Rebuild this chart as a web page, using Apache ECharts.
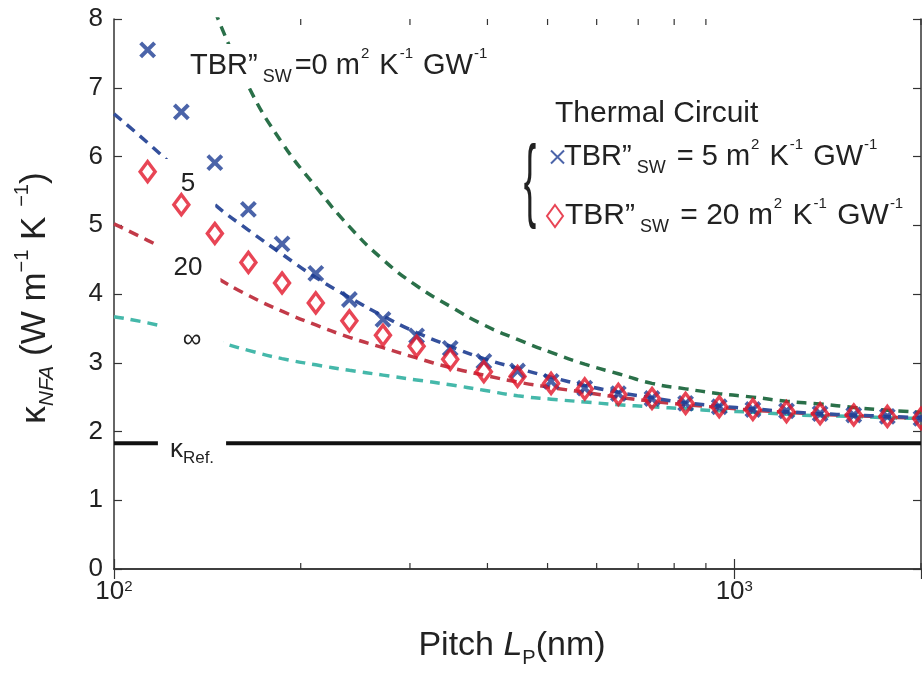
<!DOCTYPE html>
<html>
<head>
<meta charset="utf-8">
<script src="https://cdn.jsdelivr.net/npm/echarts@6/dist/echarts.min.js"></script>
<style>
  html, body { margin: 0; padding: 0; background: #fff; }
  #chart { width: 922px; height: 674px; }
</style>
</head>
<body>
<div id="chart"></div>
<script>
// ---------- data ----------
// pitch grid (nm) used by the model curves
const pitchCurve = [100, 113.3, 128.4, 145.4, 164.7, 186.6, 211.5, 239.6, 271.4, 307.5, 348.4, 394.7,
  447.2, 506.6, 574.0, 650.3, 736.8, 834.7, 945.7, 1071.4, 1213.9, 1375.2, 1558.1, 1765.2, 2000];
// pitch of thermal circuit markers (nm)
const pitchMarkers = [113.3, 128.4, 145.4, 164.7, 186.6, 211.5, 239.6, 271.4, 307.5, 348.4, 394.7,
  447.2, 506.6, 574.0, 650.3, 736.8, 834.7, 945.7, 1071.4, 1213.9, 1375.2, 1558.1, 1765.2, 2000];
// thermal circuit, TBR''sw = 5
const circuit5 = [7.55, 6.65, 5.91, 5.23, 4.73, 4.30, 3.92, 3.63, 3.39, 3.21, 3.02, 2.88, 2.73, 2.63,
  2.55, 2.48, 2.41, 2.36, 2.32, 2.30, 2.26, 2.24, 2.22, 2.19];
// thermal circuit, TBR''sw = 20
const circuit20 = [5.78, 5.30, 4.88, 4.46, 4.16, 3.87, 3.61, 3.40, 3.24, 3.05, 2.87, 2.80, 2.70, 2.62,
  2.54, 2.48, 2.41, 2.36, 2.32, 2.29, 2.26, 2.24, 2.22, 2.19];
// model curves (dashed)
const model0 = [null, null, null, 8.12, 7.02, 6.20, 5.56, 4.98, 4.50, 4.12, 3.82, 3.55, 3.34, 3.15,
  2.98, 2.84, 2.70, 2.62, 2.55, 2.50, 2.44, 2.40, 2.35, 2.31, 2.28];
const model5 = [6.62, 6.20, 5.75, 5.30, 4.93, 4.58, 4.24, 3.95, 3.68, 3.44, 3.24, 3.06, 2.92, 2.79,
  2.67, 2.57, 2.49, 2.42, 2.37, 2.33, 2.29, 2.26, 2.24, 2.22, 2.20];
const model20 = [5.02, 4.78, 4.53, 4.25, 3.98, 3.75, 3.55, 3.37, 3.22, 3.07, 2.93, 2.82, 2.72, 2.64,
  2.57, 2.50, 2.44, 2.39, 2.35, 2.31, 2.28, 2.25, 2.23, 2.21, 2.19];
const modelInf = [3.67, 3.58, 3.46, 3.32, 3.18, 3.06, 2.97, 2.89, 2.82, 2.75, 2.68, 2.60, 2.52, 2.47,
  2.43, 2.39, 2.36, 2.33, 2.30, 2.28, 2.25, 2.23, 2.22, 2.20, 2.19];
// reference conductivity
const kappaRef = 1.83;
const refPitch = [100, 2000];
// axis ticks
const yTicks = [0, 1, 2, 3, 4, 5, 6, 7, 8];
const xMajorLabels = { 100: '10{sup|2}', 1000: '10{sup|3}' };
const xMinorTicks = [200, 300, 400, 500, 600, 700, 800, 900, 2000];

// ---------- helpers ----------
const FONT = 'Liberation Sans, Arial, sans-serif';
const TXT = '#222';
const pairs = (xs, ys) => xs.map((x, i) => [x, ys[i]]);
const richSS = {
  sub: { fontSize: 18, fontFamily: FONT, color: TXT, verticalAlign: 'bottom', lineHeight: 18, padding: [0, 3, 0, 5] },
  sup: { fontSize: 15, fontFamily: FONT, color: TXT, verticalAlign: 'top', lineHeight: 15, padding: [0, 2, 0, 1] }
};

const chart = echarts.init(document.getElementById('chart'), null, { renderer: 'canvas' });

const dashed = (name, data, color) => ({
  name, type: 'line', data: pairs(pitchCurve, data), smooth: true, showSymbol: false,
  symbol: 'none', clip: true, z: 2,
  lineStyle: { color, width: 3.5, type: [10, 7] }
});

const xPath = 'path://M0,0L10,10M10,0L0,10';
const boxText = (text, x, y, pad, extra) => ({
  type: 'text', x, y, z: 4,
  style: Object.assign({ text, font: '26px ' + FONT, fill: TXT, textAlign: 'center', textVerticalAlign: 'middle',
    backgroundColor: '#fff', padding: pad }, extra || {})
});

const option = {
  animation: false,
  backgroundColor: '#fff',
  grid: { left: 114, right: 1, top: 19, bottom: 105 },
  xAxis: [{
    type: 'log', logBase: 10, min: 100, max: 2000,
    axisLine: { show: true, lineStyle: { color: '#333', width: 1.5 } },
    axisTick: { show: true, inside: true, length: 10, lineStyle: { color: '#333', width: 1.2 } },
    splitLine: { show: false },
    axisLabel: {
      margin: 10, fontSize: 26, fontFamily: FONT, color: TXT,
      formatter: v => xMajorLabels[Math.round(v)] || '',
      showMaxLabel: false,
      rich: { sup: { fontSize: 15, fontFamily: FONT, color: TXT, verticalAlign: 'top', padding: [0, 0, 10, 0] } }
    }
  }, {
    type: 'log', logBase: 10, min: 100, max: 2000, position: 'top',
    axisLine: { show: true, lineStyle: { color: '#333', width: 1.5 } },
    axisTick: { show: true, inside: true, length: 10, lineStyle: { color: '#333', width: 1.2 } },
    axisLabel: { show: false }, splitLine: { show: false }
  }],
  yAxis: [{
    type: 'value', min: 0, max: 8, interval: 1,
    axisLine: { show: true, lineStyle: { color: '#333', width: 1.5 } },
    axisTick: { show: true, inside: true, length: 8, lineStyle: { color: '#333', width: 1.2 } },
    splitLine: { show: false },
    axisLabel: { margin: 11, fontSize: 26, fontFamily: FONT, color: TXT,
      formatter: v => yTicks.includes(v) ? String(v) : '' }
  }, {
    type: 'value', min: 0, max: 8, interval: 1, position: 'right',
    axisLine: { show: true, lineStyle: { color: '#333', width: 1.5 } },
    axisTick: { show: true, inside: true, length: 8, lineStyle: { color: '#333', width: 1.2 } },
    axisLabel: { show: false }, splitLine: { show: false }
  }],
  legend: [{
    data: [{ name: 'c5', icon: xPath }],
    orient: 'vertical', left: 550, top: 137, padding: 0, itemWidth: 13, itemHeight: 13, itemGap: 0,
    selectedMode: false,
    formatter: () => 'TBR”{sub|SW} = 5 m{sup|2} K{sup|-1} GW{sup|-1}',
    textStyle: { fontSize: 29, fontFamily: FONT, color: TXT, lineHeight: 40, padding: [0, 0, 0, -5], rich: richSS }
  }, {
    data: [{ name: 'c20' }],
    orient: 'vertical', left: 546, top: 196, padding: 0, itemWidth: 16, itemHeight: 22, itemGap: 0,
    selectedMode: false,
    formatter: () => 'TBR”{sub|SW} = 20 m{sup|2} K{sup|-1} GW{sup|-1}',
    textStyle: { fontSize: 30, fontFamily: FONT, color: TXT, lineHeight: 40, padding: [0, 0, 0, -3], rich: richSS }
  }],
  graphic: [
    { type: 'text', left: 555, top: 99, z: 10,
      style: { text: 'Thermal Circuit', font: '30px ' + FONT, fill: TXT } },
    { type: 'text', x: 530, y: 185, scaleY: 2.1, scaleX: 0.85, z: 10,
      style: { text: '{', font: '44px ' + FONT, fill: TXT, textAlign: 'center', textVerticalAlign: 'middle' } },
    { type: 'text', x: 186, y: 66, z: 4,
      style: { text: 'TBR”{sub|SW}=0 m{sup|2} K{sup|-1} GW{sup|-1}', font: '29px ' + FONT, fill: TXT,
        textVerticalAlign: 'middle', backgroundColor: '#fff', padding: [2, 4, 2, 4], lineHeight: 40, rich: richSS } },
    boxText('5', 189, 184, [12, 20, 12, 18]),
    boxText('20', 188, 268, [10, 18, 10, 18]),
    boxText('∞', 192, 340, [10, 22, 10, 22]),
    boxText('κ{s|Ref.}', 192, 450, [4, 12, 4, 12], {
      rich: { s: { fontSize: 17, fontFamily: FONT, color: TXT, verticalAlign: 'bottom', lineHeight: 17 } },
      lineHeight: 34 }),
    { type: 'text', x: 512, y: 646, z: 10,
      style: { text: 'Pitch {i|L}{s|P}(nm)', font: '34px ' + FONT, fill: TXT, textAlign: 'center', textVerticalAlign: 'middle',
        lineHeight: 44,
        rich: { i: { fontSize: 34, fontStyle: 'italic', fontFamily: FONT, color: TXT },
                s: { fontSize: 20, fontFamily: FONT, color: TXT, verticalAlign: 'bottom', lineHeight: 20 } } } },
    { type: 'text', x: 35, y: 298, rotation: Math.PI / 2, z: 10,
      style: { text: 'κ{s|NFA} (W m{p|−1} K {p|−1})', font: '35px ' + FONT, fill: TXT, textAlign: 'center', textVerticalAlign: 'middle',
        lineHeight: 46,
        rich: { s: { fontSize: 21, fontStyle: 'italic', fontFamily: FONT, color: TXT, verticalAlign: 'bottom', lineHeight: 21 },
                p: { fontSize: 20, fontFamily: FONT, color: TXT, verticalAlign: 'top', lineHeight: 20 } } } }
  ],
  series: [
    dashed('m0', model0, '#2a7049'),
    dashed('mInf', modelInf, '#45b8aa'),
    dashed('m20', model20, '#c23a48'),
    dashed('m5', model5, '#34509c'),
    { name: 'ref', type: 'line', data: pairs(refPitch, [kappaRef, kappaRef]), showSymbol: false, symbol: 'none',
      lineStyle: { color: '#111', width: 4 }, z: 3 },
    { name: 'c5', type: 'scatter', data: pairs(pitchMarkers, circuit5), symbol: xPath, symbolSize: 14,
      clip: true, z: 5,
      itemStyle: { color: 'rgba(0,0,0,0)', borderColor: '#1e3d94', borderWidth: 4 } },
    { name: 'c20', type: 'scatter', data: pairs(pitchMarkers, circuit20), symbol: 'diamond', symbolSize: [15, 20],
      clip: true, z: 6,
      itemStyle: { color: 'rgba(0,0,0,0)', borderColor: '#e2162a', borderWidth: 3.5 } },
    { name: 'minorTicks', type: 'custom', data: xMinorTicks.map(v => [v, 0]), z: 8, silent: true,
      renderItem: (params, api) => {
        const x = api.coord([api.value(0), 0])[0];
        const yb = api.coord([100, 0])[1];
        const yt = api.coord([100, 8])[1];
        const st = { stroke: '#333', lineWidth: 1.2 };
        return { type: 'group', children: [
          { type: 'line', shape: { x1: x, y1: yb, x2: x, y2: yb - 6 }, style: st },
          { type: 'line', shape: { x1: x, y1: yt, x2: x, y2: yt + 6 }, style: st }
        ] };
      } }
  ]
};
chart.setOption(option);
</script>
</body>
</html>
